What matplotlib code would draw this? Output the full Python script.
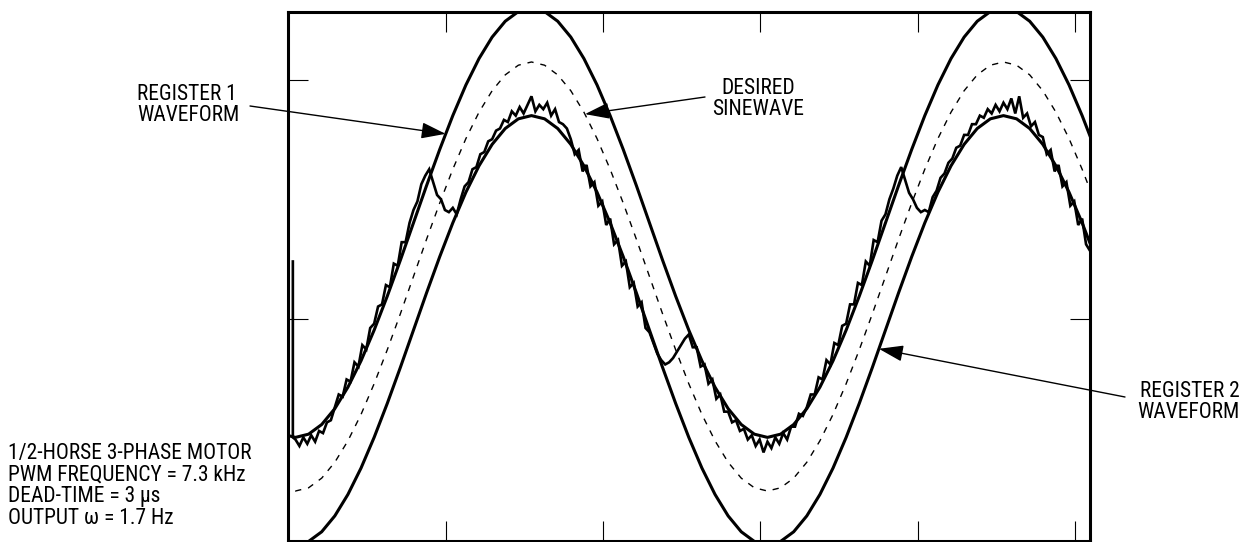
import numpy as np
import matplotlib
matplotlib.use('Agg')
import matplotlib.pyplot as plt

# Phase angle in degrees (desired sinewave peaks at 90), one sample every 10 degrees
phase = np.arange(-100, 521, 10)

# Desired sinewave (dashed), normalised to its own amplitude
desired = [-0.985, -1.0, -0.985, -0.94, -0.866, -0.766, -0.643, -0.5, -0.342, -0.174,
           0.0, 0.174, 0.342, 0.5, 0.643, 0.766, 0.866, 0.94, 0.985, 1.0,
           0.985, 0.94, 0.866, 0.766, 0.643, 0.5, 0.342, 0.174, 0.0, -0.174,
           -0.342, -0.5, -0.643, -0.766, -0.866, -0.94, -0.985, -1.0, -0.985, -0.94,
           -0.866, -0.766, -0.643, -0.5, -0.342, -0.174, 0.0, 0.174, 0.342, 0.5,
           0.643, 0.766, 0.866, 0.94, 0.985, 1.0, 0.985, 0.94, 0.866, 0.766,
           0.643, 0.5, 0.342]

# Register 1 waveform (sits above the desired sinewave)
register_1 = [-0.735, -0.75, -0.735, -0.69, -0.616, -0.516, -0.393, -0.25, -0.092, 0.076,
              0.25, 0.424, 0.592, 0.75, 0.893, 1.016, 1.116, 1.19, 1.235, 1.25,
              1.235, 1.19, 1.116, 1.016, 0.893, 0.75, 0.592, 0.424, 0.25, 0.076,
              -0.092, -0.25, -0.393, -0.516, -0.616, -0.69, -0.735, -0.75, -0.735, -0.69,
              -0.616, -0.516, -0.393, -0.25, -0.092, 0.076, 0.25, 0.424, 0.592, 0.75,
              0.893, 1.016, 1.116, 1.19, 1.235, 1.25, 1.235, 1.19, 1.116, 1.016,
              0.893, 0.75, 0.592]

# Register 2 waveform (sits below the desired sinewave)
register_2 = [-1.235, -1.25, -1.235, -1.19, -1.116, -1.016, -0.893, -0.75, -0.592, -0.424,
              -0.25, -0.076, 0.092, 0.25, 0.393, 0.516, 0.616, 0.69, 0.735, 0.75,
              0.735, 0.69, 0.616, 0.516, 0.393, 0.25, 0.092, -0.076, -0.25, -0.424,
              -0.592, -0.75, -0.893, -1.016, -1.116, -1.19, -1.235, -1.25, -1.235, -1.19,
              -1.116, -1.016, -0.893, -0.75, -0.592, -0.424, -0.25, -0.076, 0.092, 0.25,
              0.393, 0.516, 0.616, 0.69, 0.735, 0.75, 0.735, 0.69, 0.616, 0.516,
              0.393, 0.25, 0.092]

# Measured output, start-up step then one sample every 3 degrees
measured_x = [-92, -92] + list(range(-90, 517, 3))
measured = [0.07, -0.75,
            -0.76, -0.79, -0.75, -0.78, -0.74, -0.77, -0.72, -0.73, -0.68, -0.67,
            -0.61, -0.55, -0.56, -0.48, -0.49, -0.40, -0.42, -0.32, -0.34, -0.24,
            -0.22, -0.14, -0.13, -0.04, -0.05, 0.06, 0.05, 0.16, 0.16, 0.25,
            0.31, 0.35, 0.43, 0.47, 0.50, 0.44, 0.38, 0.36, 0.31, 0.30,
            0.32, 0.29, 0.36, 0.42, 0.44, 0.50, 0.51, 0.57, 0.58, 0.63,
            0.64, 0.68, 0.69, 0.73, 0.72, 0.77, 0.75, 0.79, 0.76, 0.80,
            0.84, 0.77, 0.80, 0.78, 0.81, 0.75, 0.78, 0.72, 0.71, 0.69,
            0.64, 0.57, 0.59, 0.49, 0.52, 0.42, 0.44, 0.33, 0.35, 0.24,
            0.27, 0.15, 0.17, 0.05, 0.07, -0.05, -0.03, -0.14, -0.12, -0.24,
            -0.26, -0.31, -0.36, -0.39, -0.41, -0.40, -0.38, -0.35, -0.32, -0.29,
            -0.27, -0.33, -0.33, -0.42, -0.41, -0.50, -0.48, -0.57, -0.55, -0.63,
            -0.63, -0.68, -0.67, -0.72, -0.71, -0.76, -0.74, -0.79, -0.76, -0.82,
            -0.77, -0.80, -0.75, -0.78, -0.73, -0.76, -0.70, -0.70, -0.64, -0.65,
            -0.61, -0.55, -0.55, -0.47, -0.48, -0.39, -0.41, -0.31, -0.32, -0.23,
            -0.22, -0.13, -0.13, -0.03, -0.04, 0.07, 0.05, 0.17, 0.16, 0.26,
            0.29, 0.36, 0.41, 0.47, 0.51, 0.45, 0.39, 0.36, 0.32, 0.30,
            0.31, 0.30, 0.37, 0.40, 0.46, 0.48, 0.53, 0.55, 0.60, 0.61,
            0.66, 0.66, 0.71, 0.71, 0.75, 0.74, 0.78, 0.76, 0.80, 0.77,
            0.81, 0.78, 0.83, 0.76, 0.84, 0.74, 0.76, 0.70, 0.72, 0.66,
            0.65, 0.57, 0.59, 0.49, 0.52, 0.42, 0.44, 0.33, 0.35, 0.24,
            0.27, 0.15, 0.12]

note_lines = ['1/2-HORSE 3-PHASE MOTOR', 'PWM FREQUENCY = 7.3 kHz',
              'DEAD-TIME = 3 \u03bcs', 'OUTPUT \u03c9 = 1.7 Hz']

FONT = ['Roboto Condensed', 'Liberation Sans', 'DejaVu Sans']
FSIZE = 15.5
LSP = 1.05

fig = plt.figure(figsize=(12.5, 5.42), dpi=100)
ax = fig.add_axes([288 / 1250, 1 / 542, 802 / 1250, 529 / 542])

ax.plot(phase, register_1, color='black', lw=2.2)
ax.plot(phase, register_2, color='black', lw=2.2)
ax.plot(phase, desired, color='black', lw=1.0, dashes=(4.5, 5))
ax.plot(measured_x, measured, color='black', lw=1.9, solid_joinstyle='miter')

ax.set_xlim(-95.7, 516.0)
ax.set_ylim(-1.233, 1.233)
ax.set_xticks([24.5, 144.5, 264.5, 384.5, 504.5])
ax.set_yticks([-0.2, 0.916])
ax.tick_params(direction='in', length=14.4, width=0.8, top=True, right=True,
               labelbottom=False, labelleft=False)
for s in ax.spines.values():
    s.set_linewidth(2.2)

arrow = dict(arrowstyle='-|>,head_length=0.75,head_width=0.25', color='black',
             lw=1.0, shrinkA=0, shrinkB=0, mutation_scale=20)

# labels and arrows
ax.annotate('REGISTER 1\nWAVEFORM', xy=(137, 437), xycoords='figure pixels',
            ha='left', va='center', multialignment='left', linespacing=LSP,
            family=FONT, size=FSIZE)
ax.annotate('', xy=(24.5, 0.665), xytext=(250, 436), textcoords='figure pixels',
            arrowprops=arrow, annotation_clip=False)

ax.annotate('DESIRED\nSINEWAVE', xy=(758, 443), xycoords='figure pixels',
            ha='center', va='center', multialignment='center', linespacing=LSP,
            family=FONT, size=FSIZE)
ax.annotate('', xy=(130.8, 0.757), xytext=(705, 445), textcoords='figure pixels',
            arrowprops=arrow, annotation_clip=False)

ax.annotate('REGISTER 2\nWAVEFORM', xy=(1240, 140), xycoords='figure pixels',
            ha='right', va='center', multialignment='right', linespacing=LSP,
            family=FONT, size=FSIZE)
ax.annotate('', xy=(355, -0.337), xytext=(1125, 145), textcoords='figure pixels',
            arrowprops=arrow, annotation_clip=False)

ax.annotate('\n'.join(note_lines), xy=(8, 56), xycoords='figure pixels',
            ha='left', va='center', multialignment='left', linespacing=LSP,
            family=FONT, size=FSIZE)

fig.savefig('out.png', dpi=100)
